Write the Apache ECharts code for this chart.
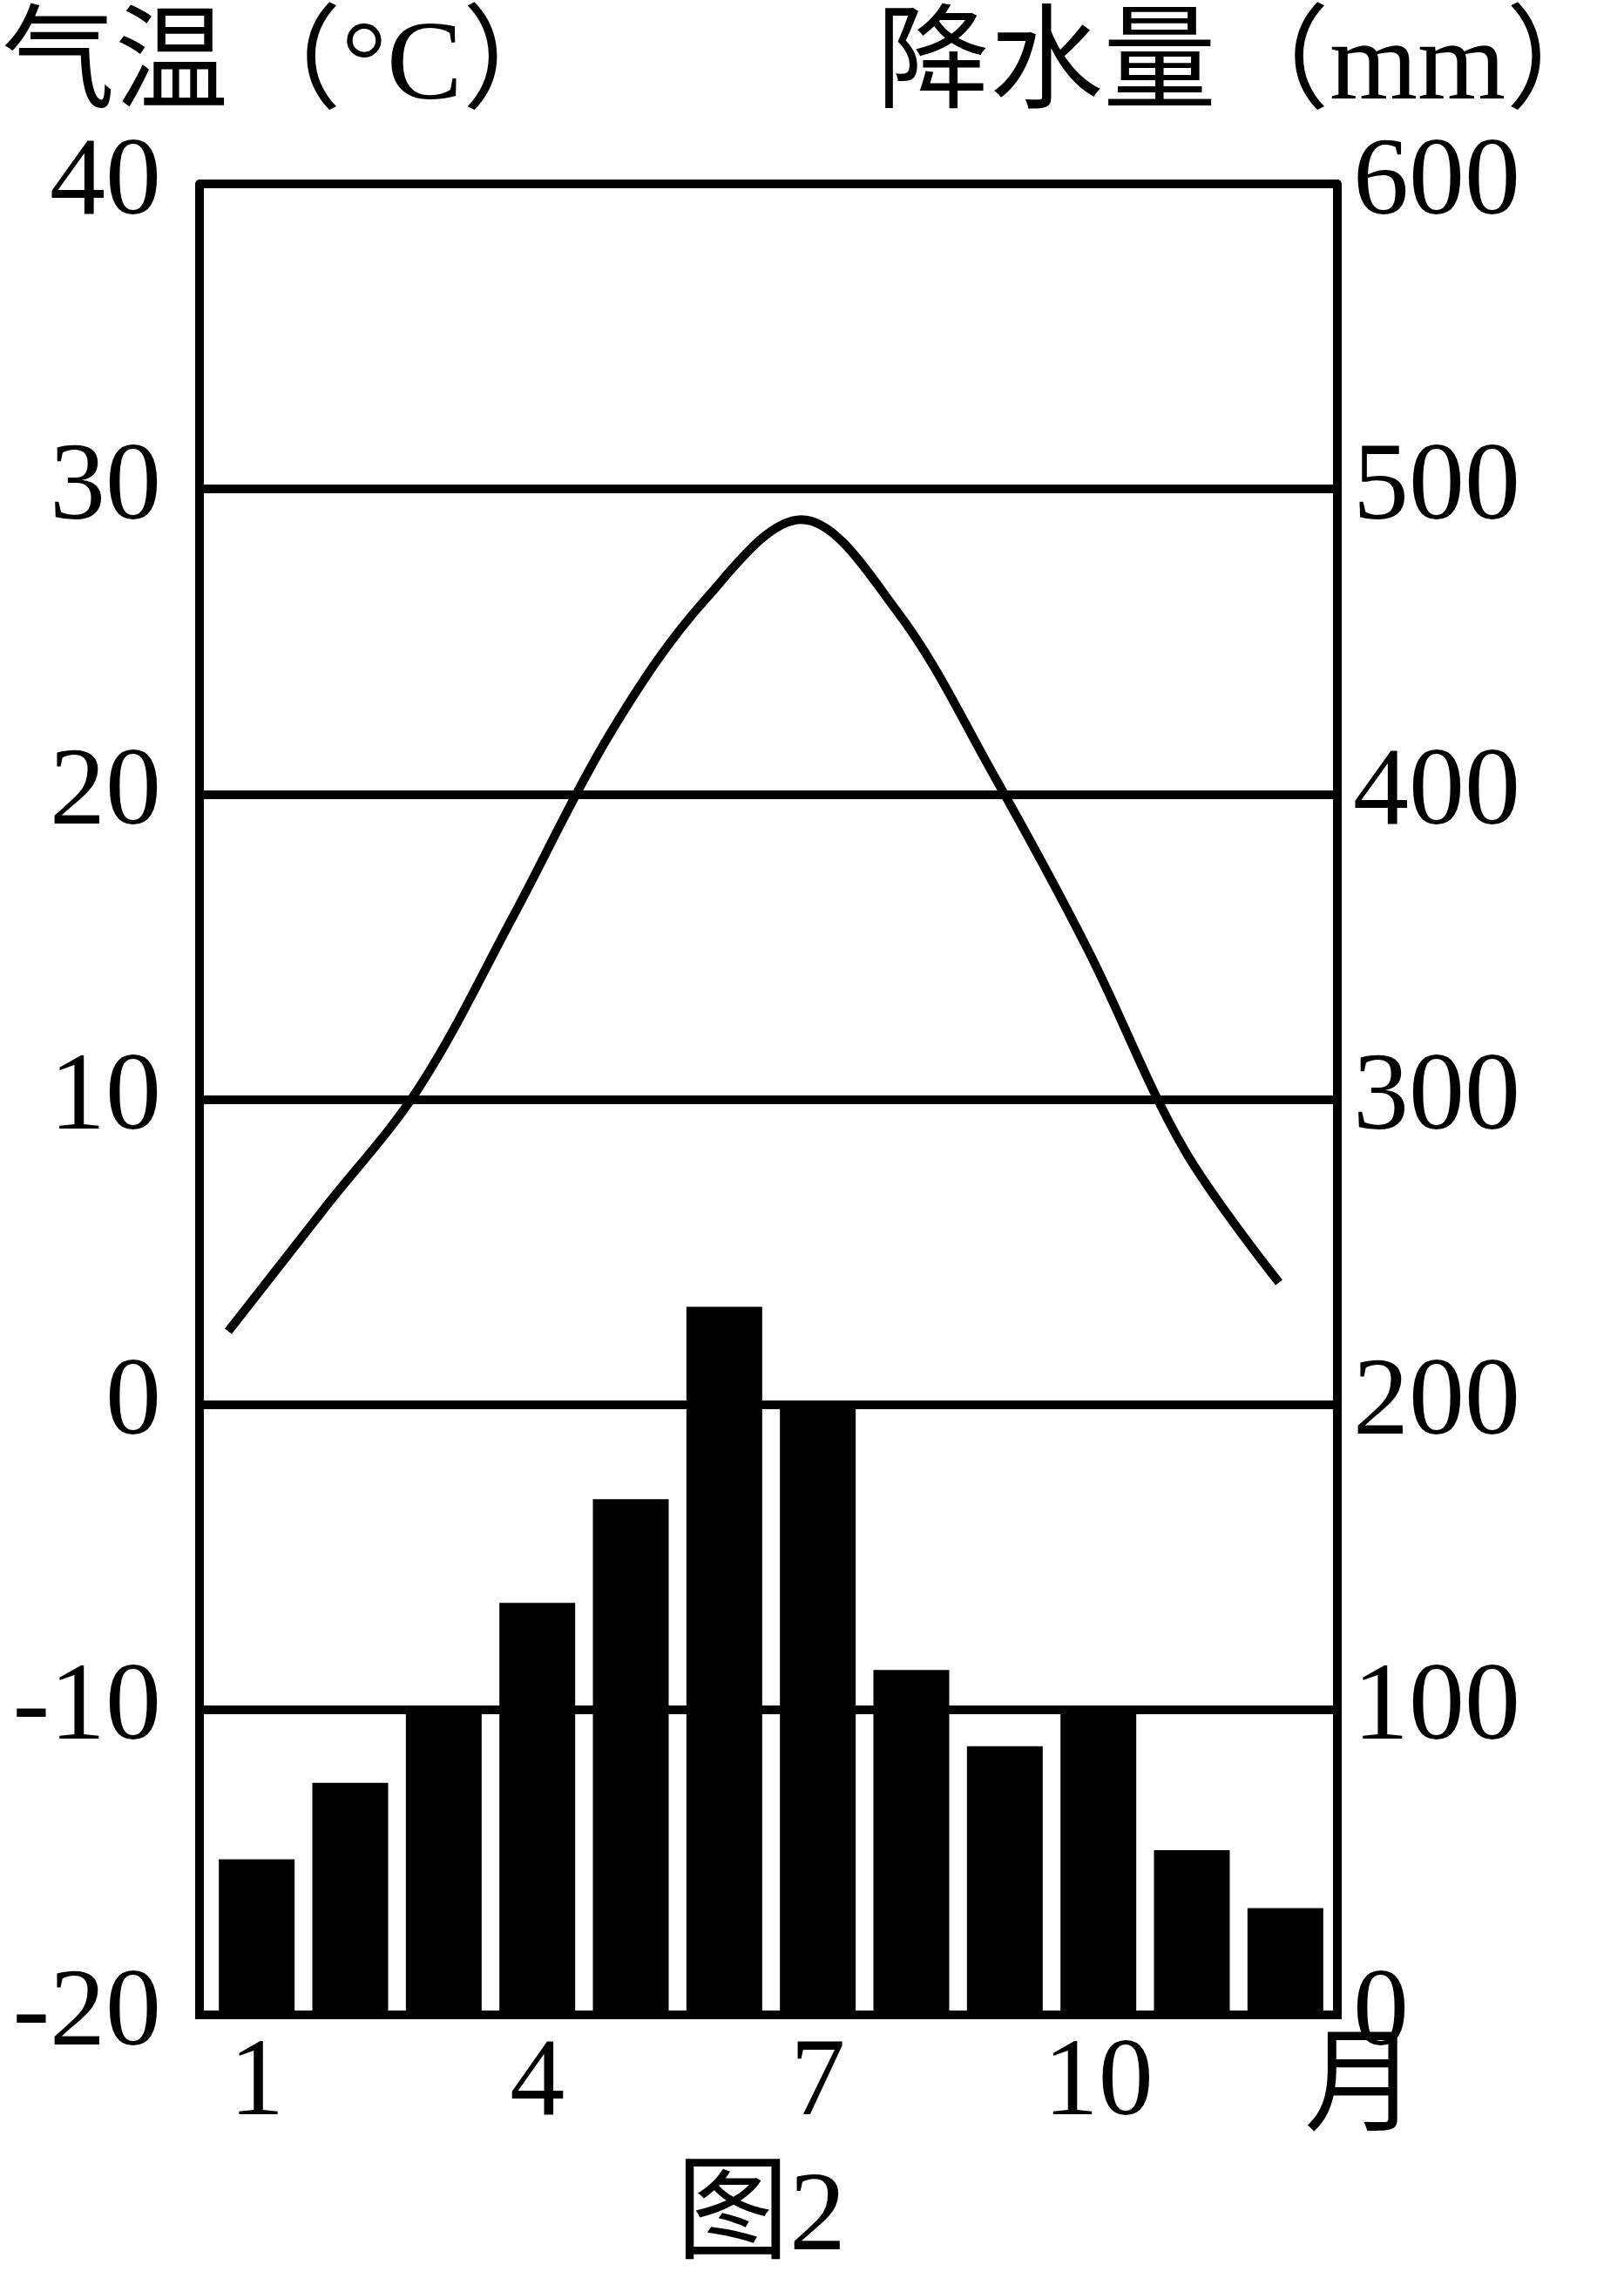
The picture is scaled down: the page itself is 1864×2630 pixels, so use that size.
<!DOCTYPE html>
<html>
<head>
<meta charset="utf-8">
<script src="https://cdn.jsdelivr.net/npm/echarts/dist/echarts.min.js"></script>
<style>
html,body{margin:0;padding:0;background:#ffffff;}
#chart{width:1864px;height:2630px;}
</style>
</head>
<body>
<div id="chart"></div>
<script>
// ---- data ----
const months = ['1','2','3','4','5','6','7','8','9','10','11','12'];
const precipitation = [51, 76, 100, 135, 169, 232, 200, 113, 88, 100, 54, 35]; // mm
const temperature = [2.4, 6.4, 10.4, 16.1, 22.0, 26.4, 29.0, 26.0, 20.7, 14.9, 8.4, 4.0]; // °C
const tempMin = -20, tempMax = 40, tempStep = 10;
const precMin = 0, precMax = 600, precStep = 100;
const leftTitle = '气温（°C）';
const rightTitle = '降水量（mm）';
const monthUnit = '月';
const figureCaption = '图2';

const FONT = '"Liberation Serif", "Noto Sans CJK SC", serif';
const INK = '#000000';
const chart = echarts.init(document.getElementById('chart'), null, {renderer: 'canvas'});

const G_TOP = 211, G_BOTTOM = 318;

const option = {
  backgroundColor: '#ffffff',
  animation: false,
  grid: [
    {left: 229, right: 329, top: G_TOP, bottom: G_BOTTOM},   // frame + gridlines
    {left: 241, right: 335, top: G_TOP, bottom: G_BOTTOM},   // bars
    {left: 262, right: 396, top: G_TOP, bottom: G_BOTTOM}    // temperature curve
  ],
  xAxis: [
    {gridIndex: 0, type: 'category', position: 'bottom', data: months,
     axisLine: {show: true, lineStyle: {color: INK, width: 10, cap: 'square'}},
     axisTick: {show: false}, axisLabel: {show: false}, splitLine: {show: false}},
    {gridIndex: 0, type: 'category', position: 'top', data: months,
     axisLine: {show: true, lineStyle: {color: INK, width: 10, cap: 'square'}},
     axisTick: {show: false}, axisLabel: {show: false}, splitLine: {show: false}},
    {gridIndex: 1, type: 'category', data: months,
     axisLine: {show: false}, axisTick: {show: false},
     axisLabel: {show: true, interval: 2, margin: 18, color: INK, fontFamily: FONT, fontSize: 126}},
    {gridIndex: 2, type: 'category', data: months, boundaryGap: false, show: false}
  ],
  yAxis: [
    {gridIndex: 0, type: 'value', position: 'left', min: tempMin, max: tempMax, interval: tempStep,
     axisLine: {show: true, lineStyle: {color: INK, width: 10}},
     axisTick: {show: false},
     axisLabel: {color: INK, fontFamily: FONT, fontSize: 128, margin: 44},
     splitLine: {show: true, lineStyle: {color: INK, width: 10, type: 'solid'}}},
    {gridIndex: 0, type: 'value', position: 'right', min: precMin, max: precMax, interval: precStep,
     axisLine: {show: true, lineStyle: {color: INK, width: 10}},
     axisTick: {show: false},
     axisLabel: {color: INK, fontFamily: FONT, fontSize: 128, margin: 18},
     splitLine: {show: false}},
    {gridIndex: 1, type: 'value', min: precMin, max: precMax, show: false, splitLine: {show: false}},
    {gridIndex: 2, type: 'value', min: tempMin, max: tempMax, show: false, splitLine: {show: false}}
  ],
  series: [
    {type: 'bar', xAxisIndex: 2, yAxisIndex: 2, data: precipitation, barWidth: 87,
     itemStyle: {color: INK}, z: 3},
    {type: 'line', xAxisIndex: 3, yAxisIndex: 3, data: temperature, smooth: 0.35,
     showSymbol: false, symbol: 'none',
     lineStyle: {color: INK, width: 10, join: 'round'}, z: 4}
  ],
  graphic: [
    {type: 'text', x: 2, y: 79,
     style: {text: leftTitle, fontSize: 130, fontFamily: FONT, fill: INK,
             textAlign: 'left', textVerticalAlign: 'middle'}},
    {type: 'text', x: 1006, y: 79,
     style: {text: rightTitle, fontSize: 130, fontFamily: FONT, fill: INK,
             textAlign: 'left', textVerticalAlign: 'middle'}},
    {type: 'text', x: 1497, y: 2400,
     style: {text: monthUnit, fontSize: 130, fontFamily: FONT, fill: INK,
             textAlign: 'left', textVerticalAlign: 'middle'}},
    {type: 'text', x: 776, y: 2547,
     style: {text: figureCaption, fontSize: 130, fontFamily: FONT, fill: INK,
             textAlign: 'left', textVerticalAlign: 'middle'}}
  ]
};
chart.setOption(option);
</script>
</body>
</html>
